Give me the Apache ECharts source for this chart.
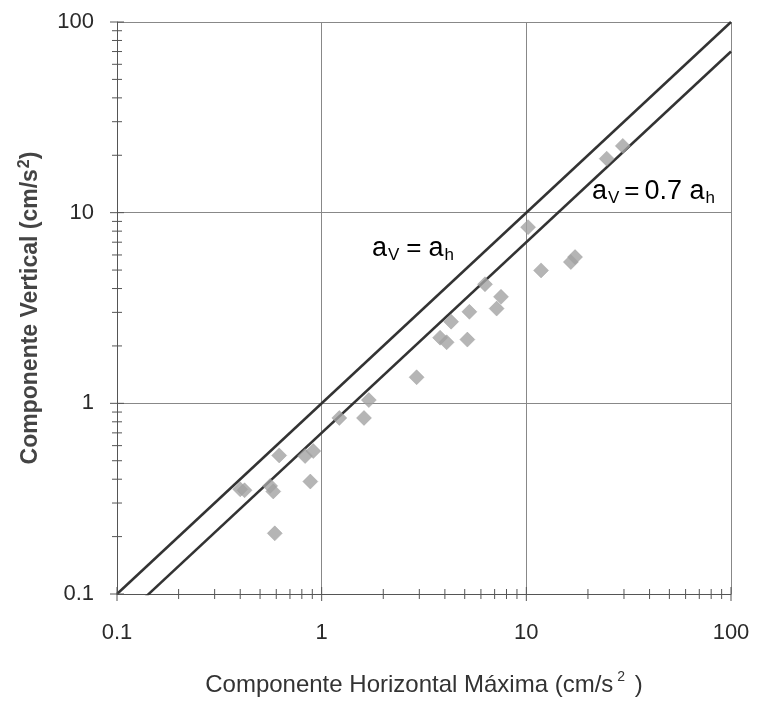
<!DOCTYPE html>
<html><head><meta charset="utf-8">
<script src="https://cdn.jsdelivr.net/npm/echarts@6/dist/echarts.min.js"></script>
<style>html,body{margin:0;padding:0;background:#fff}#c{width:757px;height:702px}</style>
</head><body><div id="c"></div>
<script>
// Data
const horizontal = [0.40, 0.42, 0.56, 0.58, 0.62, 0.59, 0.83, 0.91, 0.88, 1.22, 1.61, 1.70, 2.91, 3.79, 4.08, 4.29, 5.15, 5.27, 6.28, 7.16, 7.52, 10.2, 11.8, 16.5, 17.3, 24.7, 29.6];
const vertical   = [0.354, 0.35, 0.369, 0.345, 0.533, 0.208, 0.529, 0.562, 0.389, 0.838, 0.838, 1.04, 1.37, 2.21, 2.09, 2.68, 2.16, 3.02, 4.21, 3.14, 3.62, 8.39, 4.98, 5.51, 5.85, 19.2, 22.4];
const ratios = [1, 0.7];
const lineX = [0.1, 100];
const majorTicks = [0.1, 1, 10, 100];
const tickLabels = ['0.1', '1', '10', '100'];
const minorMult = [2, 3, 4, 5, 6, 7, 8, 9];

const points = horizontal.map((h, i) => [h, vertical[i]]);
const tickData = [];
[0, 1].forEach(ax => {
  majorTicks.forEach(v => tickData.push([v, ax, 1]));
  majorTicks.slice(0, 3).forEach(d => minorMult.forEach(m => tickData.push([d * m, ax, 0])));
});

const FF = 'Liberation Sans, Arial, sans-serif';
const chart = echarts.init(document.getElementById('c'));
const axisCommon = {
  type: 'log', logBase: 10, min: 0.1, max: 100,
  axisLine: {show: true, lineStyle: {color: '#555', width: 1}},
  axisTick: {show: false},
  splitLine: {show: true, lineStyle: {color: '#888', width: 1}},
  axisLabel: {fontFamily: FF, fontSize: 22, color: '#2a2a2a',
    formatter: v => { const i = majorTicks.findIndex(t => Math.abs(t - v) / t < 1e-6); return i >= 0 ? tickLabels[i] : ''; }}
};
chart.setOption({
  animation: false,
  grid: {left: 117, right: 26, top: 22, bottom: 105},
  xAxis: Object.assign({}, axisCommon, {
    name: 'Componente Horizontal Máxima (cm/s{sup|2} )', nameLocation: 'middle', nameGap: 76,
    nameTextStyle: {fontFamily: FF, fontSize: 24, color: '#333',
      rich: {sup: {fontFamily: FF, fontSize: 14, color: '#333', padding: [0, 3, 16, 4]}}},
    axisLabel: Object.assign({}, axisCommon.axisLabel, {margin: 28})
  }),
  yAxis: Object.assign({}, axisCommon, {
    name: 'Componente Vertical (cm/s{sup|2})', nameLocation: 'middle', nameGap: 72,
    nameTextStyle: {fontFamily: FF, fontSize: 23, fontWeight: 'bold', color: '#444',
      rich: {sup: {fontFamily: FF, fontSize: 16, fontWeight: 'bold', color: '#444', padding: [0, 0, 12, 1]}}},
    axisLabel: Object.assign({}, axisCommon.axisLabel, {margin: 23})
  }),
  series: [
    ...ratios.map(r => ({
      type: 'line', data: lineX.map(x => [x, x * r]), symbol: 'none', clip: true,
      lineStyle: {color: '#333', width: 2.5}, z: 3
    })),
    {
      type: 'scatter', data: points, symbol: 'diamond', symbolSize: 15,
      itemStyle: {color: '#a3a3a3', borderColor: '#999', borderWidth: 0.5}, z: 4
    },
    {
      type: 'custom', data: tickData, z: 5, silent: true,
      renderItem: (params, api) => {
        const v = api.value(0), ax = api.value(1), major = api.value(2);
        const len = major ? 7 : 5;
        if (ax === 0) {
          const p = api.coord([v, 0.1]);
          return {type: 'line', shape: {x1: p[0], y1: p[1] - len, x2: p[0], y2: p[1] + len}, style: {stroke: '#555', lineWidth: 1}};
        } else {
          const p = api.coord([0.1, v]);
          return {type: 'line', shape: {x1: p[0] - len, y1: p[1], x2: p[0] + len, y2: p[1]}, style: {stroke: '#555', lineWidth: 1}};
        }
      }
    }
  ],
  graphic: [
    {type: 'text', left: 372, top: 235, style: {
      text: '{a|a}{s|V}{e|=}{a|a}{s|h}',
      rich: {a: {fontFamily: FF, fontSize: 27, color: '#333', lineHeight: 30},
             e: {fontFamily: FF, fontSize: 26, color: '#333', lineHeight: 30, padding: [0, 7, 0, 7]},
             s: {fontFamily: FF, fontSize: 17, color: '#333', padding: [13, 0, 0, 1]}}}},
    {type: 'text', left: 592, top: 178, style: {
      text: '{a|a}{s|V}{e|=}{a|0.7 a}{s|h}',
      rich: {a: {fontFamily: FF, fontSize: 27, color: '#333', lineHeight: 30},
             e: {fontFamily: FF, fontSize: 26, color: '#333', lineHeight: 30, padding: [0, 5, 0, 5]},
             s: {fontFamily: FF, fontSize: 17, color: '#333', padding: [13, 0, 0, 1]}}}}
  ]
});
</script></body></html>
